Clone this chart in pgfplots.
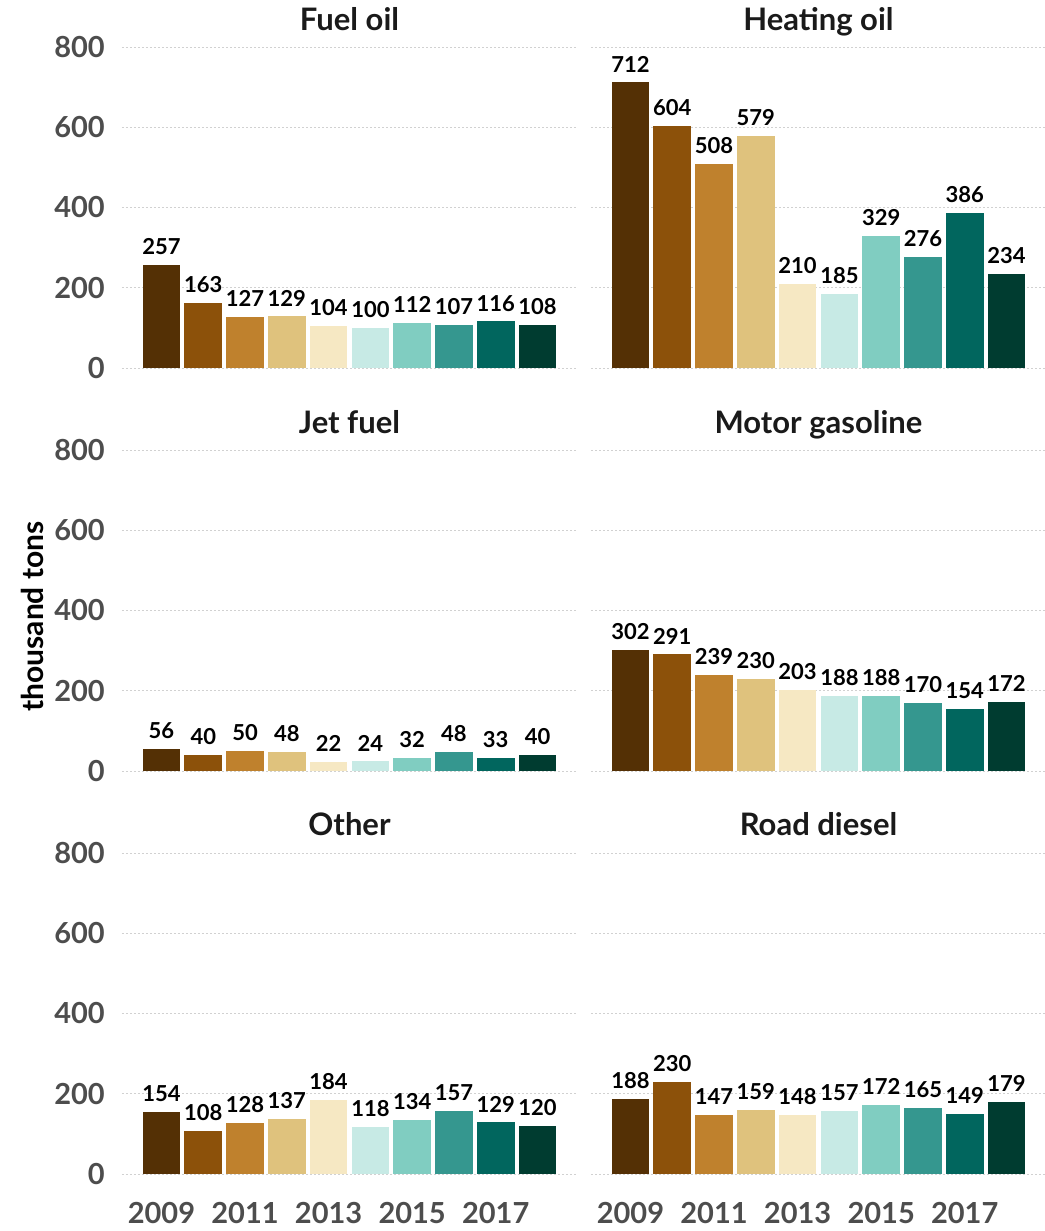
\documentclass[border=0pt]{standalone}
\usepackage{pgfplots}
\pgfplotsset{compat=1.18}
\usepgfplotslibrary{groupplots}
\usepackage{fontspec}
\setmainfont{Lato}
\definecolor{c1}{HTML}{543005}
\definecolor{c2}{HTML}{8C510A}
\definecolor{c3}{HTML}{BF812D}
\definecolor{c4}{HTML}{DFC27D}
\definecolor{c5}{HTML}{F6E8C3}
\definecolor{c6}{HTML}{C7EAE5}
\definecolor{c7}{HTML}{80CDC1}
\definecolor{c8}{HTML}{35978F}
\definecolor{c9}{HTML}{01665E}
\definecolor{c10}{HTML}{003C30}
\definecolor{tickgray}{HTML}{4D4D4D}
\definecolor{titleblack}{HTML}{1A1A1A}
\newcommand{\B}[3]{\addplot[fill=#1] coordinates {(#2,#3)};}
\begin{document}
\begin{tikzpicture}
\begin{groupplot}[
  group style={group name=G, group size=2 by 3, horizontal sep=14pt, vertical sep=62pt,
    xticklabels at=edge bottom, yticklabels at=edge left},
  scale only axis, width=455pt, height=341pt,
  xmin=2008.055, xmax=2018.945, ymin=-20, ymax=830,
  xtick={2009,2011,2013,2015,2017}, ytick={0,200,400,600,800},
  axis line style={draw=none}, major tick length=0pt,
  ymajorgrids, grid style={black!18, line width=0.8pt, dash pattern=on 2pt off 2pt},
  /pgf/number format/assume math mode=true, /pgf/number format/1000 sep={},
  tick label style={font=\fontsize{29}{33}\selectfont\bfseries, color=tickgray},
  yticklabel style={inner sep=0pt, anchor=east, xshift=-17pt},
  xticklabel style={inner sep=0pt, anchor=north, yshift=-20pt},
  title style={font=\fontsize{31}{35}\selectfont\bfseries, color=titleblack, anchor=base, at={(0.5,1)}, yshift=-1pt, inner sep=0pt},
  clip=false,
  every axis plot/.append style={ybar, bar width=0.9, bar shift=0pt, draw=none, nodes near coords},
  every node near coord/.append style={font=\fontsize{22}{25}\selectfont\bfseries, color=black, inner sep=0pt, yshift=10pt},
]
\nextgroupplot[title=Fuel oil]
\B{c1}{2009}{257}\B{c2}{2010}{163}\B{c3}{2011}{127}\B{c4}{2012}{129}\B{c5}{2013}{104}
\B{c6}{2014}{100}\B{c7}{2015}{112}\B{c8}{2016}{107}\B{c9}{2017}{116}\B{c10}{2018}{108}
\nextgroupplot[title=Heating oil]
\B{c1}{2009}{712}\B{c2}{2010}{604}\B{c3}{2011}{508}\B{c4}{2012}{579}\B{c5}{2013}{210}
\B{c6}{2014}{185}\B{c7}{2015}{329}\B{c8}{2016}{276}\B{c9}{2017}{386}\B{c10}{2018}{234}
\nextgroupplot[title=Jet fuel]
\B{c1}{2009}{56}\B{c2}{2010}{40}\B{c3}{2011}{50}\B{c4}{2012}{48}\B{c5}{2013}{22}
\B{c6}{2014}{24}\B{c7}{2015}{32}\B{c8}{2016}{48}\B{c9}{2017}{33}\B{c10}{2018}{40}
\nextgroupplot[title=Motor gasoline]
\B{c1}{2009}{302}\B{c2}{2010}{291}\B{c3}{2011}{239}\B{c4}{2012}{230}\B{c5}{2013}{203}
\B{c6}{2014}{188}\B{c7}{2015}{188}\B{c8}{2016}{170}\B{c9}{2017}{154}\B{c10}{2018}{172}
\nextgroupplot[title=Other]
\B{c1}{2009}{154}\B{c2}{2010}{108}\B{c3}{2011}{128}\B{c4}{2012}{137}\B{c5}{2013}{184}
\B{c6}{2014}{118}\B{c7}{2015}{134}\B{c8}{2016}{157}\B{c9}{2017}{129}\B{c10}{2018}{120}
\nextgroupplot[title=Road diesel]
\B{c1}{2009}{188}\B{c2}{2010}{230}\B{c3}{2011}{147}\B{c4}{2012}{159}\B{c5}{2013}{148}
\B{c6}{2014}{157}\B{c7}{2015}{172}\B{c8}{2016}{165}\B{c9}{2017}{149}\B{c10}{2018}{179}
\end{groupplot}
\node[rotate=90, font=\fontsize{30}{34}\selectfont\bfseries, color=black, anchor=center]
  at ([xshift=-90pt, yshift=-8pt]G c1r2.west) {thousand tons};
\pgfresetboundingbox
\path[use as bounding box] ([shift={(-122pt,-855pt)}]G c1r1.south west) rectangle ([shift={(922pt,376pt)}]G c1r1.south west);
\end{tikzpicture}
\end{document}
